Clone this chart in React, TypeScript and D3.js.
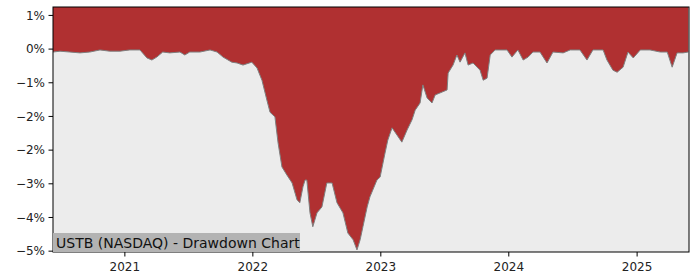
import React from "react";
import * as d3 from "d3";

const dates: string[] = [
  "2020-06-10","2020-06-30","2020-07-28","2020-08-26","2020-09-23","2020-10-22","2020-11-19","2020-12-18",
  "2021-01-15","2021-02-13","2021-03-05","2021-03-19","2021-04-02","2021-04-19","2021-05-09","2021-06-07",
  "2021-06-21","2021-07-05","2021-08-03","2021-09-01","2021-09-21","2021-10-08","2021-11-02","2021-11-17",
  "2021-12-04","2021-12-29","2022-01-13","2022-01-27","2022-02-10","2022-02-19","2022-03-05","2022-03-14",
  "2022-03-25","2022-04-08","2022-04-23","2022-05-07","2022-05-15","2022-05-24","2022-05-30","2022-06-04",
  "2022-06-13","2022-06-21","2022-07-03","2022-07-17","2022-07-31","2022-08-15","2022-08-29","2022-09-15",
  "2022-09-29","2022-10-14","2022-10-25","2022-11-03","2022-11-11","2022-11-23","2022-12-01","2022-12-21",
  "2022-12-30","2023-01-13","2023-01-21","2023-02-02","2023-02-16","2023-03-02","2023-03-17","2023-03-31",
  "2023-04-09","2023-04-23","2023-05-01","2023-05-13","2023-05-27","2023-06-05","2023-06-25","2023-07-09",
  "2023-07-12","2023-07-26","2023-08-06","2023-08-15","2023-08-29","2023-09-07","2023-09-21","2023-10-11",
  "2023-10-20","2023-10-31","2023-11-09","2023-11-23","2023-12-07","2023-12-27","2024-01-10","2024-01-27",
  "2024-02-11","2024-02-25","2024-03-10","2024-03-30","2024-04-19","2024-05-06","2024-06-04","2024-06-24",
  "2024-07-22","2024-08-11","2024-08-28","2024-09-26","2024-10-07","2024-10-24","2024-11-05","2024-11-22",
  "2024-12-06","2024-12-21","2025-01-10","2025-02-07","2025-03-08","2025-03-28","2025-04-11","2025-04-25",
  "2025-05-12","2025-05-27"
];

const drawdown: number[] = [
  -0.07,-0.05,-0.07,-0.09,-0.07,-0.02,-0.05,-0.05,
  -0.02,-0.02,-0.21,-0.26,-0.19,-0.07,-0.09,-0.07,
  -0.14,-0.07,-0.07,-0.02,-0.07,-0.19,-0.31,-0.33,
  -0.38,-0.31,-0.45,-0.74,-1.21,-1.50,-1.61,-2.23,
  -2.80,-2.99,-3.18,-3.58,-3.65,-3.27,-3.11,-3.11,
  -3.89,-4.22,-3.89,-3.75,-3.18,-3.18,-3.65,-3.89,
  -4.37,-4.53,-4.77,-4.53,-4.22,-3.75,-3.51,-3.11,
  -3.04,-2.47,-2.16,-1.87,-2.04,-2.21,-1.92,-1.68,
  -1.45,-1.28,-0.85,-1.16,-1.28,-1.09,-1.02,-0.97,
  -0.57,-0.38,-0.14,-0.31,-0.09,-0.38,-0.33,-0.50,
  -0.74,-0.69,-0.14,-0.02,-0.02,-0.02,-0.19,-0.02,
  -0.26,-0.19,-0.07,-0.07,-0.33,-0.07,-0.09,-0.02,
  -0.02,-0.26,-0.02,-0.02,-0.26,-0.50,-0.55,-0.43,
  -0.07,-0.21,-0.02,-0.02,-0.07,-0.07,-0.43,-0.09,
  -0.09,-0.07
];

const yTicks: number[] = [0.8, 0, -0.8, -1.6, -2.4, -3.2, -4.0, -4.8];
const xTickYears: string[] = ["2021-01-01", "2022-01-01", "2023-01-01", "2024-01-01", "2025-01-01"];
const xDomain: string[] = ["2020-06-10", "2025-05-29"];
const yDomain: number[] = [-4.82, 1.0];
const title = "USTB (NASDAQ) - Drawdown Chart";

const W = 700, H = 280;
const M = { left: 53, right: 11, top: 7, bottom: 28 };

export default function App() {
  const parse = d3.timeParse("%Y-%m-%d");
  const data = dates.map((d, i) => ({ date: parse(d) as Date, v: drawdown[i] }));
  const x = d3.scaleTime()
    .domain(xDomain.map((d) => parse(d) as Date))
    .range([M.left, W - M.right]);
  const y = d3.scaleLinear().domain(yDomain).range([H - M.bottom, M.top]);

  const area = d3.area<{ date: Date; v: number }>()
    .x((d) => x(d.date))
    .y0(M.top)
    .y1((d) => y(d.v));
  const line = d3.line<{ date: Date; v: number }>()
    .x((d) => x(d.date))
    .y((d) => y(d.v));

  const fmt = d3.format(".0%");
  const font = "'DejaVu Sans', sans-serif";
  const pw = W - M.left - M.right;
  const ph = H - M.top - M.bottom;

  return (
    <svg width={W} height={H} style={{ position: "absolute", left: 0, top: 0 }} fontFamily={font}>
      <rect x={0} y={0} width={W} height={H} fill="#ffffff" />
      <defs>
        <clipPath id="plot">
          <rect x={M.left} y={M.top} width={pw} height={ph} />
        </clipPath>
      </defs>
      <rect x={M.left} y={M.top} width={pw} height={ph} fill="#ececec" />
      <g clipPath="url(#plot)">
        <path d={area(data) || ""} fill="#b03031" />
        <path d={line(data) || ""} fill="none" stroke="#7f7f7f" strokeWidth={1} />
      </g>
      <rect x={M.left} y={M.top} width={pw} height={ph} fill="none" stroke="#000" strokeWidth={1} />
      {yTicks.map((t) => (
        <g key={t}>
          <line x1={M.left - 4.5} x2={M.left} y1={y(t)} y2={y(t)} stroke="#000" strokeWidth={1} />
          <text x={M.left - 8} y={y(t)} dy="0.35em" textAnchor="end" fontSize={12} fill="#222">
            {fmt(t / 100)}
          </text>
        </g>
      ))}
      {xTickYears.map((s) => {
        const d = parse(s) as Date;
        return (
          <g key={s}>
            <line x1={x(d)} x2={x(d)} y1={H - M.bottom} y2={H - M.bottom + 4.5} stroke="#000" strokeWidth={1} />
            <text x={x(d)} y={H - M.bottom + 19} textAnchor="middle" fontSize={12} fill="#222">
              {d3.timeFormat("%Y")(d)}
            </text>
          </g>
        );
      })}
      <rect x={M.left} y={233} width={247} height={H - M.bottom - 233} fill="#b3b3b3" />
      <text x={M.left + 3} y={247.5} fontSize={14} fill="#111">{title}</text>
    </svg>
  );
}
